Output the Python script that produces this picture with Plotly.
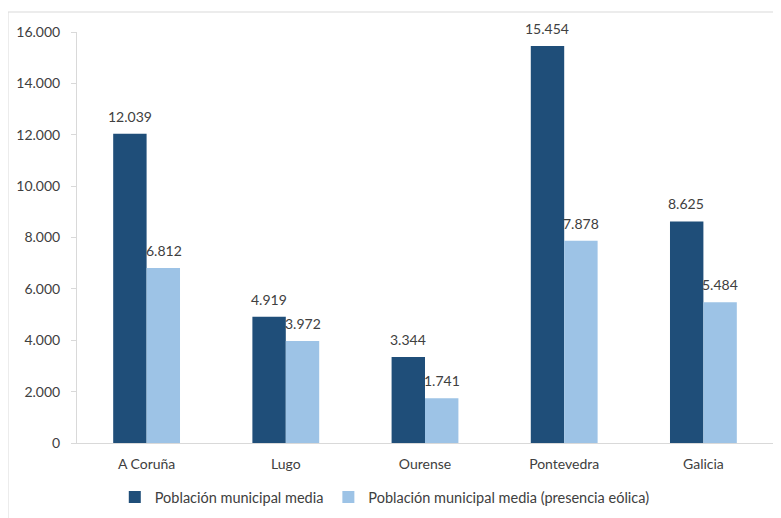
import plotly.graph_objects as go

categories = ["A Coruña", "Lugo", "Ourense", "Pontevedra", "Galicia"]
media = [12039, 4919, 3344, 15454, 8625]
media_eolica = [6812, 3972, 1741, 7878, 5484]
series_names = ["Población municipal media", "Población municipal media (presencia eólica)"]
tick_vals = [0, 2000, 4000, 6000, 8000, 10000, 12000, 14000, 16000]

FONT = "Lato"
FS = 14
TXT = "#404040"
COLORS = ["#1F4E79", "#9DC3E6"]

fig = go.Figure()
for name, vals, col in zip(series_names, [media, media_eolica], COLORS):
    fig.add_trace(go.Bar(
        x=categories, y=vals, name=name,
        marker=dict(color=col, line=dict(width=0)),
    ))

# data labels above bars
annotations = []
for vals, shift in zip([media, media_eolica], [-17, 17]):
    for c, v in zip(categories, vals):
        annotations.append(dict(
            x=c, y=v, xref="x", yref="y", text=f"{v:,}".replace(",", "."),
            showarrow=False, yanchor="bottom", xanchor="center",
            xshift=shift, yshift=7,
            font=dict(family=FONT, size=FS, color=TXT),
        ))

fig.update_layout(
    width=773, height=510,
    margin=dict(l=69, r=8, t=24, b=75),
    paper_bgcolor="white", plot_bgcolor="white",
    separators=",.",
    barmode="group", bargap=0.52, bargroupgap=0,
    font=dict(family=FONT, size=FS, color=TXT),
    showlegend=True,
    legend=dict(orientation="h", xref="paper", x=0.0543, xanchor="left",
                yref="container", y=21/510, yanchor="middle",
                font=dict(family=FONT, size=14.5, color=TXT), traceorder="normal",
                itemwidth=30),
    xaxis=dict(showgrid=False, showline=True, linecolor="#D9D9D9", linewidth=1,
               ticks="", ticklabelstandoff=8,
               tickfont=dict(family=FONT, size=FS, color=TXT)),
    yaxis=dict(range=[0, 16000], tickvals=tick_vals, tickformat=",d",
               showgrid=False, showline=True, linecolor="#D9D9D9", linewidth=1,
               ticks="outside", ticklen=5, tickcolor="#D9D9D9", ticklabelstandoff=8,
               tickfont=dict(family=FONT, size=FS, color=TXT), zeroline=False),
    annotations=annotations,
    shapes=[dict(type="rect", xref="paper", yref="paper",
                 x0=-69/696, x1=1.05, y0=-0.3, y1=1 + 20/411,
                 line=dict(color="#D9D9D9", width=1), fillcolor="rgba(0,0,0,0)", layer="below")],
)

fig.write_html("out.html")
